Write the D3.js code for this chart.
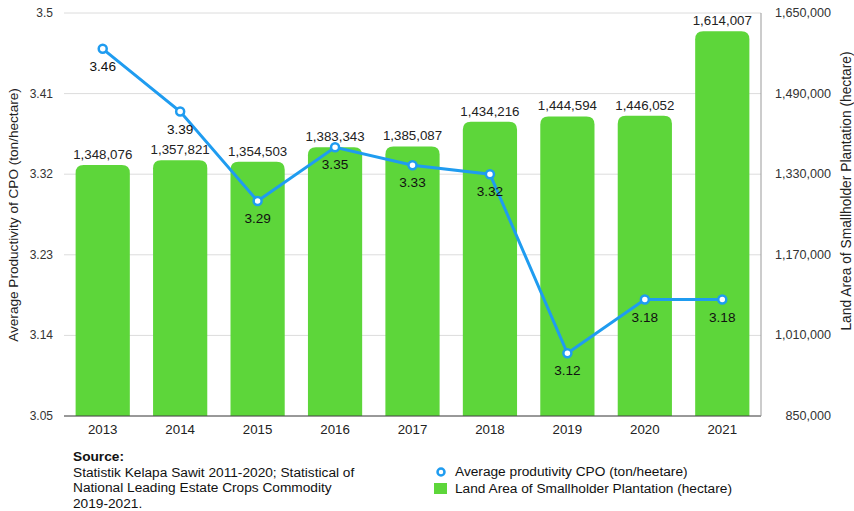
<!DOCTYPE html>
<html>
<head>
<meta charset="utf-8">
<script src="https://cdn.jsdelivr.net/npm/d3@7"></script>
<style>
  body { margin: 0; background: #fff; }
  svg { display: block; font-family: "Liberation Sans", Arial, sans-serif; }
</style>
</head>
<body>
<svg id="chart" width="854" height="511"></svg>
<script>
// ── Data ─────────────────────────────────────────────────────────────
const years        = ['2013', '2014', '2015', '2016', '2017', '2018', '2019', '2020', '2021'];
const landArea     = [1348076, 1357821, 1354503, 1383343, 1385087, 1434216, 1444594, 1446052, 1614007];
const productivity = [3.46, 3.39, 3.29, 3.35, 3.33, 3.32, 3.12, 3.18, 3.18];
const leftTicks    = [3.05, 3.14, 3.23, 3.32, 3.41, 3.5];
const rightTicks   = [850000, 1010000, 1170000, 1330000, 1490000, 1650000];

const barColor  = '#5dd63a';
const lineColor = '#1f9cf0';

const svg = d3.select('#chart');
const margin = { left: 64, right: 93, top: 13, bottom: 95 };
const W = 854, H = 511;

const x = d3.scaleBand()
  .domain(years)
  .range([margin.left, W - margin.right])
  .paddingInner(0.3)
  .paddingOuter(0.15);

const yL = d3.scaleLinear().domain([3.05, 3.5]).range([H - margin.bottom, margin.top]);
const yR = d3.scaleLinear().domain([850000, 1650000]).range([H - margin.bottom, margin.top]);

const fmtL = d => (d === 3.5 ? '3.5' : d3.format('.2f')(d));
const fmtR = d3.format(',');
const cx = d => x(d) + x.bandwidth() / 2;

// ── Grid ─────────────────────────────────────────────────────────────
svg.append('g')
  .selectAll('line')
  .data(leftTicks)
  .join('line')
  .attr('x1', margin.left).attr('x2', W - margin.right)
  .attr('y1', d => yL(d)).attr('y2', d => yL(d))
  .attr('stroke', '#dcdcdc').attr('stroke-width', 1);

// ── Bars (rounded top corners) ───────────────────────────────────────
const r = 8;
svg.append('g')
  .selectAll('path')
  .data(years)
  .join('path')
  .attr('fill', barColor)
  .attr('d', (d, i) => {
    const x0 = x(d), x1 = x(d) + x.bandwidth();
    const y0 = yR(landArea[i]), yb = yR(850000);
    return `M${x0},${yb} V${y0 + r} Q${x0},${y0} ${x0 + r},${y0} H${x1 - r} Q${x1},${y0} ${x1},${y0 + r} V${yb} Z`;
  });

// bar labels
svg.append('g')
  .selectAll('text')
  .data(years)
  .join('text')
  .attr('x', cx)
  .attr('y', (d, i) => yR(landArea[i]) - 6)
  .attr('text-anchor', 'middle')
  .attr('font-size', 13.3)
  .attr('fill', '#222')
  .text((d, i) => fmtR(landArea[i]));

// ── Axes ─────────────────────────────────────────────────────────────
svg.append('line')
  .attr('x1', margin.left).attr('x2', W - margin.right)
  .attr('y1', yL(3.05)).attr('y2', yL(3.05))
  .attr('stroke', '#444').attr('stroke-width', 1.2);

svg.append('line')
  .attr('x1', W - margin.right).attr('x2', W - margin.right)
  .attr('y1', margin.top).attr('y2', yL(3.05))
  .attr('stroke', '#999').attr('stroke-width', 1);

svg.append('g')
  .selectAll('text')
  .data(leftTicks)
  .join('text')
  .attr('x', 53)
  .attr('y', d => yL(d) + 4)
  .attr('text-anchor', 'end')
  .attr('font-size', 12)
  .attr('fill', '#333')
  .text(fmtL);

svg.append('g')
  .selectAll('text')
  .data(rightTicks)
  .join('text')
  .attr('x', 831)
  .attr('y', d => yR(d) + 4)
  .attr('text-anchor', 'end')
  .attr('font-size', 12.6)
  .attr('fill', '#333')
  .text(fmtR);

svg.append('g')
  .selectAll('text')
  .data(years)
  .join('text')
  .attr('x', cx)
  .attr('y', yL(3.05) + 18)
  .attr('text-anchor', 'middle')
  .attr('font-size', 13.3)
  .attr('fill', '#222')
  .text(d => d);

svg.append('text')
  .attr('transform', `translate(18,215) rotate(-90)`)
  .attr('text-anchor', 'middle')
  .attr('font-size', 13.6)
  .attr('fill', '#222')
  .text('Average Productivity of CPO (ton/hectare)');

svg.append('text')
  .attr('transform', `translate(851,191) rotate(-90)`)
  .attr('text-anchor', 'middle')
  .attr('font-size', 13.8)
  .attr('fill', '#222')
  .text('Land Area of Smallholder Plantation (hectare)');

// ── Line ─────────────────────────────────────────────────────────────
const line = d3.line()
  .x((d, i) => cx(years[i]))
  .y(d => yL(d));

svg.append('path')
  .datum(productivity)
  .attr('fill', 'none')
  .attr('stroke', lineColor)
  .attr('stroke-width', 3)
  .attr('d', line);

svg.append('g')
  .selectAll('circle')
  .data(productivity)
  .join('circle')
  .attr('cx', (d, i) => cx(years[i]))
  .attr('cy', d => yL(d))
  .attr('r', 4)
  .attr('fill', '#fff')
  .attr('stroke', lineColor)
  .attr('stroke-width', 2.5);

svg.append('g')
  .selectAll('text')
  .data(productivity)
  .join('text')
  .attr('x', (d, i) => cx(years[i]))
  .attr('y', d => yL(d) + 22)
  .attr('text-anchor', 'middle')
  .attr('font-size', 13.6)
  .attr('fill', '#111')
  .text(d => d3.format('.2f')(d));

// ── Source note ──────────────────────────────────────────────────────
const note = svg.append('text').attr('font-size', 13.7).attr('fill', '#111');
note.append('tspan').attr('x', 73).attr('y', 461).attr('font-weight', 'bold').text('Source:');
note.append('tspan').attr('x', 73).attr('y', 476.5).text('Statistik Kelapa Sawit 2011-2020; Statistical of');
note.append('tspan').attr('x', 73).attr('y', 492).text('National Leading Estate Crops Commodity');
note.append('tspan').attr('x', 73).attr('y', 507.5).text('2019-2021.');

// ── Legend ───────────────────────────────────────────────────────────
const lg = svg.append('g');
lg.append('circle')
  .attr('cx', 441).attr('cy', 472).attr('r', 3.5)
  .attr('fill', '#fff').attr('stroke', lineColor).attr('stroke-width', 2.5);
lg.append('text').attr('x', 455).attr('y', 476).attr('font-size', 13.7).attr('fill', '#111')
  .text('Average produtivity CPO (ton/heetare)');
lg.append('rect')
  .attr('x', 434).attr('y', 483).attr('width', 13).attr('height', 11)
  .attr('fill', barColor);
lg.append('text').attr('x', 455).attr('y', 492.5).attr('font-size', 13.7).attr('fill', '#111')
  .text('Land Area of Smallholder Plantation (hectare)');
</script>
</body>
</html>
